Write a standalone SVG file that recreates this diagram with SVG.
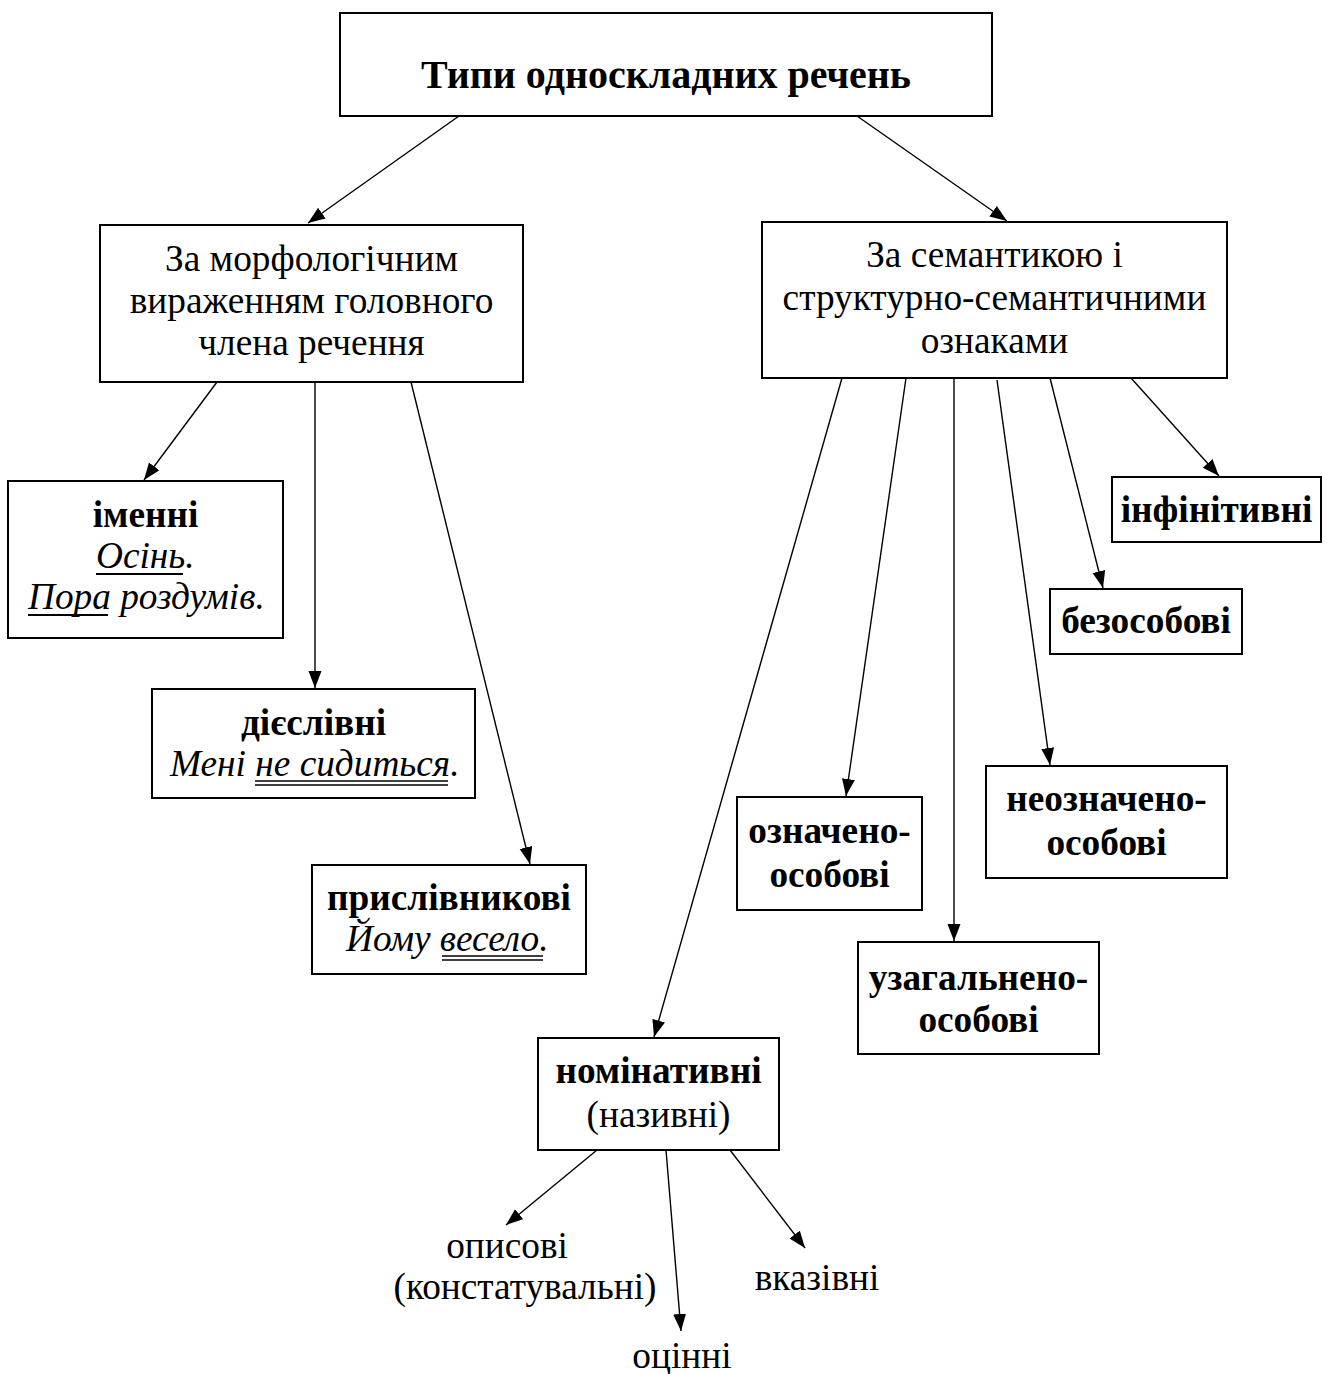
<svg xmlns="http://www.w3.org/2000/svg" width="1327" height="1374" viewBox="0 0 1327 1374">
<defs>
<style>
.box{fill:#fff;stroke:#000;stroke-width:2}
text{font-family:"Liberation Serif","Times New Roman",serif;font-size:37.3px;fill:#000;text-anchor:middle}
.b{font-weight:bold}
.i{font-style:italic;text-anchor:start}
.t{font-size:40px;font-weight:bold}
.ul{stroke:#000;stroke-width:1.8}
.ul2{stroke:#000;stroke-width:1.5}
.c{stroke:#000;stroke-width:1.4;fill:none;marker-end:url(#ah)}
</style>
<marker id="ah" markerUnits="userSpaceOnUse" markerWidth="18" markerHeight="14" refX="17" refY="6.5" orient="auto">
<path d="M0,0 L17,6.5 L0,13 z" fill="#000"/>
</marker>
</defs>
<rect width="1327" height="1374" fill="#fff"/>
<g id="connectors">
<line class="c" x1="459" y1="116" x2="308" y2="223"/>
<line class="c" x1="857" y1="116" x2="1007" y2="221"/>
<line class="c" x1="217" y1="382" x2="144" y2="480"/>
<line class="c" x1="315" y1="382" x2="315" y2="688"/>
<line class="c" x1="411" y1="382" x2="530" y2="864"/>
<line class="c" x1="842" y1="378" x2="654" y2="1037"/>
<line class="c" x1="906" y1="378" x2="846" y2="796"/>
<line class="c" x1="954" y1="378" x2="954" y2="941"/>
<line class="c" x1="997" y1="380" x2="1050" y2="765"/>
<line class="c" x1="1050" y1="378" x2="1103" y2="588"/>
<line class="c" x1="1131" y1="378" x2="1219" y2="476"/>
<line class="c" x1="597" y1="1150" x2="506" y2="1225"/>
<line class="c" x1="666" y1="1150" x2="681" y2="1331"/>
<line class="c" x1="730" y1="1150" x2="805" y2="1248"/>
</g>
<g id="root">
<rect class="box" x="340" y="13" width="652" height="103"/>
<text class="t" x="666" y="88">Типи односкладних речень</text>
</g>
<g id="morph">
<rect class="box" x="100" y="225" width="423" height="157"/>
<text x="311.5" y="271">За морфологічним</text>
<text x="311.5" y="313">вираженням головного</text>
<text x="311.5" y="355">члена речення</text>
</g>
<g id="sem">
<rect class="box" x="762" y="222" width="465" height="156"/>
<text x="994.5" y="267">За семантикою і</text>
<text x="994.5" y="310">структурно-семантичними</text>
<text x="994.5" y="353">ознаками</text>
</g>
<g id="imenni">
<rect class="box" x="8" y="481" width="275" height="157"/>
<text class="b" x="145.5" y="527">іменні</text>
<text class="i" x="96" y="568">Осінь.</text>
<line class="ul" x1="96" y1="574" x2="183" y2="574"/>
<text class="i" x="28" y="609">Пора роздумів.</text>
<line class="ul" x1="28" y1="615" x2="108" y2="615"/>
</g>
<g id="diesl">
<rect class="box" x="152" y="689" width="323" height="109"/>
<text class="b" x="313.5" y="735">дієслівні</text>
<text class="i" x="170" y="776">Мені не сидиться.</text>
<line class="ul2" x1="255" y1="781" x2="448" y2="781"/>
<line class="ul2" x1="255" y1="785" x2="448" y2="785"/>
</g>
<g id="prysl">
<rect class="box" x="312" y="865" width="274" height="109"/>
<text class="b" x="449" y="910">прислівникові</text>
<text class="i" x="346" y="951">Йому весело.</text>
<line class="ul2" x1="442" y1="956" x2="543" y2="956"/>
<line class="ul2" x1="442" y1="960" x2="543" y2="960"/>
</g>
<g id="infin">
<rect class="box" x="1112" y="477" width="209" height="65"/>
<text class="b" x="1216.5" y="522">інфінітивні</text>
</g>
<g id="bezos">
<rect class="box" x="1050" y="589" width="192" height="65"/>
<text class="b" x="1146" y="633">безособові</text>
</g>
<g id="neozn">
<rect class="box" x="986" y="766" width="241" height="112"/>
<text class="b" x="1106.5" y="811">неозначено-</text>
<text class="b" x="1106.5" y="855">особові</text>
</g>
<g id="ozn">
<rect class="box" x="737" y="797" width="185" height="113"/>
<text class="b" x="829.5" y="843">означено-</text>
<text class="b" x="829.5" y="887">особові</text>
</g>
<g id="uzag">
<rect class="box" x="858" y="942" width="241" height="112"/>
<text class="b" x="978.5" y="990">узагальнено-</text>
<text class="b" x="978.5" y="1032">особові</text>
</g>
<g id="nomin">
<rect class="box" x="538" y="1038" width="241" height="112"/>
<text class="b" x="658.5" y="1083">номінативні</text>
<text x="658.5" y="1127">(називні)</text>
</g>
<g id="opysovi">
<text x="507" y="1258">описові</text>
<text x="525" y="1299">(констатувальні)</text>
</g>
<g id="otsinni">
<text x="682" y="1368">оцінні</text>
</g>
<g id="vkazivni">
<text x="817" y="1290">вказівні</text>
</g>
</svg>
